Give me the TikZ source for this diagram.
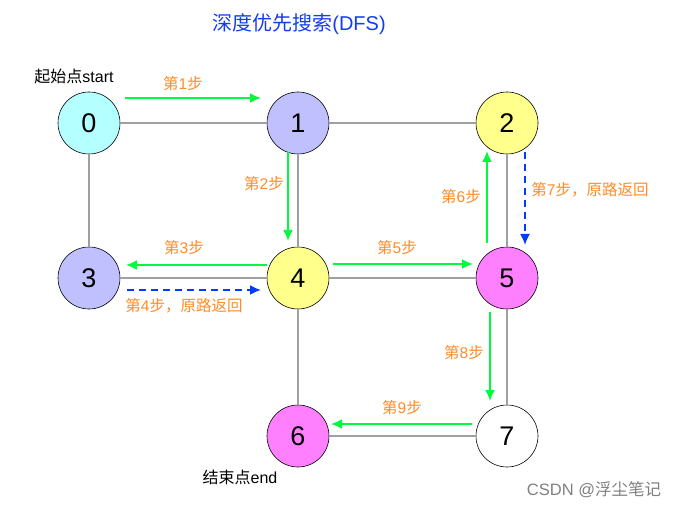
\documentclass[tikz,border=0pt]{standalone}
\usepackage{fontspec}
\setmainfont{Liberation Sans}
\newfontfamily\cjk{Noto Sans CJK SC}
\usetikzlibrary{arrows.meta}
\definecolor{edgegray}{RGB}{160,160,160}
\definecolor{stepgreen}{RGB}{0,250,60}
\definecolor{backblue}{RGB}{0,60,255}
\definecolor{lblorange}{RGB}{255,140,40}
\definecolor{ccyan}{RGB}{180,255,255}
\definecolor{clav}{RGB}{192,192,255}
\definecolor{cyel}{RGB}{255,255,140}
\definecolor{cmag}{RGB}{255,128,255}
\definecolor{titleblue}{RGB}{20,60,240}
\tikzset{
  vtx/.style={circle, draw=black, line width=0.6pt, minimum size=62pt, inner sep=0pt, font=\fontsize{27}{27}\selectfont},
  gedge/.style={draw=edgegray, line width=2pt},
  fwd/.style={draw=stepgreen, line width=2pt, -{Latex[length=11pt,width=10pt]}},
  back/.style={draw=backblue, line width=1.8pt, dash pattern=on 7pt off 5pt, -{Latex[length=11pt,width=10pt]}},
  steplbl/.style={text=lblorange, font=\fontsize{15.5}{15.5}\selectfont, inner sep=0pt},
  note/.style={text=black, font=\fontsize{16}{16}\selectfont, inner sep=0pt}
}
\begin{document}
\begin{tikzpicture}[x=1pt,y=-1pt]
\useasboundingbox[fill=white] (0,0) rectangle (678,508);
% nodes
\node[vtx, fill=ccyan] (n0) at (89,123) {0};
\node[vtx, fill=clav] (n1) at (298,123) {1};
\node[vtx, fill=cyel] (n2) at (507,123) {2};
\node[vtx, fill=clav] (n3) at (89,278) {3};
\node[vtx, fill=cyel] (n4) at (298,278) {4};
\node[vtx, fill=cmag] (n5) at (507,278) {5};
\node[vtx, fill=cmag] (n6) at (298,436) {6};
\node[vtx, fill=white] (n7) at (507,436) {7};
% gray edges
\draw[gedge] (n0) -- (n1);
\draw[gedge] (n1) -- (n2);
\draw[gedge] (n0) -- (n3);
\draw[gedge] (n3) -- (n4);
\draw[gedge] (n4) -- (n5);
\draw[gedge] (n1) -- (n4);
\draw[gedge] (n2) -- (n5);
\draw[gedge] (n4) -- (n6);
\draw[gedge] (n5) -- (n7);
\draw[gedge] (n6) -- (n7);
% step coordinates
\coordinate (s1a) at (125,98);  \coordinate (s1b) at (261,98);
\coordinate (s2a) at (288,152); \coordinate (s2b) at (288,241);
\coordinate (s3a) at (267,265); \coordinate (s3b) at (126,265);
\coordinate (s4a) at (127,290); \coordinate (s4b) at (261,290);
\coordinate (s5a) at (333,264); \coordinate (s5b) at (473,264);
\coordinate (s6a) at (487,243); \coordinate (s6b) at (487,151);
\coordinate (s7a) at (525,152); \coordinate (s7b) at (525,245);
\coordinate (s8a) at (490,312); \coordinate (s8b) at (490,401);
\coordinate (s9a) at (472,424); \coordinate (s9b) at (331,424);
\draw[fwd] (s1a) -- (s1b);
\draw[fwd] (s2a) -- (s2b);
\draw[fwd] (s3a) -- (s3b);
\draw[back] (s4a) -- (s4b);
\draw[fwd] (s5a) -- (s5b);
\draw[fwd] (s6a) -- (s6b);
\draw[back] (s7a) -- (s7b);
\draw[fwd] (s8a) -- (s8b);
\draw[fwd] (s9a) -- (s9b);
% labels
\node[steplbl] (l1) at (183,84) {{\cjk 第}1{\cjk 步}};
\node[steplbl] (l2) at (264,184) {{\cjk 第}2{\cjk 步}};
\node[steplbl] (l3) at (184,248) {{\cjk 第}3{\cjk 步}};
\node[steplbl] (l4) at (184,306) {{\cjk 第}4{\cjk 步，原路返回}};
\node[steplbl] (l5) at (397,248) {{\cjk 第}5{\cjk 步}};
\node[steplbl] (l6) at (461,197) {{\cjk 第}6{\cjk 步}};
\node[steplbl] (l7) at (590,190) {{\cjk 第}7{\cjk 步，原路返回}};
\node[steplbl] (l8) at (464,353) {{\cjk 第}8{\cjk 步}};
\node[steplbl] (l9) at (402,408) {{\cjk 第}9{\cjk 步}};
\node[note] (st) at (74,76) {{\cjk 起始点}start};
\node[note] (en) at (240,477) {{\cjk 结束点}end};
\node[text=titleblue, font=\fontsize{20}{20}\selectfont, inner sep=0pt] (title) at (299,24) {{\cjk 深度优先搜索}(DFS)};
\node[text=edgegray!80!black, font=\fontsize{16.5}{16.5}\selectfont, inner sep=0pt] (wm) at (594,490) {CSDN @{\cjk 浮尘笔记}};
\end{tikzpicture}
\end{document}
